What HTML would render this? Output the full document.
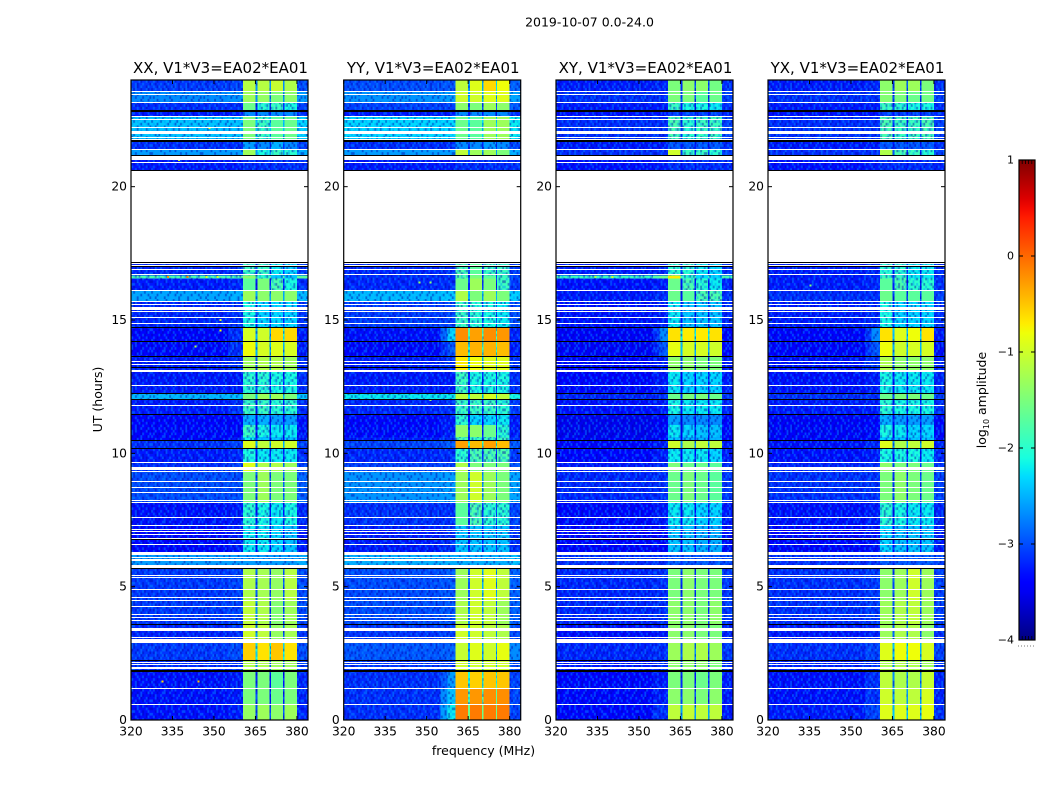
<!DOCTYPE html>
<html>
<head>
<meta charset="utf-8">
<title>2019-10-07 amplitude spectrogram</title>
<style>
html,body{margin:0;padding:0;background:#fff;}
svg{display:block;font-family:"DejaVu Sans","Liberation Sans",sans-serif;}
text{fill:#000;}
</style>
</head>
<body>
<svg id="chart" xmlns="http://www.w3.org/2000/svg" width="1050" height="800" viewBox="0 0 1050 800">
  <defs id="defs"></defs>
  <text x="589.5" y="26.5" font-size="12.5" text-anchor="middle">2019-10-07 0.0-24.0</text>
  <text x="483.5" y="755" font-size="12.5" text-anchor="middle">frequency (MHz)</text>
  <text x="102" y="399.5" font-size="12.5" text-anchor="middle" transform="rotate(-90 102 399.5)">UT (hours)</text>
  <text x="986" y="400" font-size="12.5" text-anchor="middle" transform="rotate(-90 986 400)">log<tspan font-size="8" dy="3">10</tspan><tspan dy="-3"> amplitude</tspan></text>
</svg>
<script>
const polarizations = ['XX', 'YY', 'XY', 'YX'];
const baselineLabel = ', V1*V3=EA02*EA01';
const freqTicks = [320, 335, 350, 365, 380];
const hourTicks = [0, 5, 10, 15, 20];
const colorTicks = [1, 0, -1, -2, -3, -4];
const freqRange = [320, 384];
const hourRange = [0, 24];
const colorRange = [-4, 1];

// Frequency segment edges (MHz): off-band, edge, sub-band 1, gap, sub-band 2, gap, sub-band 3, gap, sub-band 4, tail
const freqEdges = [320, 355, 360.5, 365, 365.7, 370, 370.6, 375, 375.5, 380, 384];

// Time band edges (UT hours), top to bottom
const hourEdges = [24.00,23.58,23.13,22.87,22.65,21.75,21.41,21.18,20.58,17.17,16.67,16.55,16.09,15.67,14.74,14.21,13.61,13.05,12.22,12.02,11.45,11.06,10.61,10.46,10.16,9.64,9.30,8.14,7.31,6.30,5.66,4.50,3.60,2.92,2.25,1.84,1.20,0.60,0];

// log10 amplitude per time band: off-band, edge, sub-band 1..4
const xxLevels = [
[-2.95,-2.9,-1.15,-1.15,-1.05,-1.2],[-2.7,-2.65,-1.3,-1.35,-1.5,-1.4],[-3,-3,-1.6,-2,-1.9,-2.1],[-3.1,-3.1,-2.7,-2.7,-2.7,-2.7],
[-2.4,-2.4,-1.5,-1.9,-1.7,-1.6],[-3,-3,-2.6,-2.7,-2.5,-2.7],[-2.6,-2.6,-1.3,-2.1,-1.9,-2],[-3.1,-3.1,-3,-3,-3,-3],
[-3.1,-3.1,-3,-3,-3,-3],[-3.05,-3,-1.9,-1.9,-2.2,-2.3],[-1.8,-1.8,-1.4,-2,-2.4,-2.4],[-3.1,-3.05,-1.7,-1.5,-1.8,-2.1],
[-2.55,-2.5,-1.3,-1.4,-1.4,-1.4],[-3.05,-3,-2.1,-2.3,-2.3,-2.3],[-3.2,-3,-0.95,-1,-0.6,-0.6],[-3.2,-3,-0.8,-0.95,-0.9,-0.95],
[-3.1,-3,-1.3,-1.2,-1.2,-1.3],[-3.1,-3.1,-2,-2,-2.1,-2.1],[-2.45,-2.4,-1.5,-1.3,-1.3,-1.5],[-3.1,-3,-1.9,-1.9,-2,-2],
[-3.25,-3.2,-2.5,-2.5,-2.6,-2.6],[-3.25,-3.2,-1.9,-2.1,-2.2,-2.2],[-3.2,-3.1,-2.2,-2.4,-2.4,-2.4],[-3,-2.9,-0.9,-1.1,-1,-1],
[-3.1,-3.05,-2.1,-2.2,-2.2,-2.2],[-3,-2.9,-0.9,-1.2,-1.2,-1.3],[-2.85,-2.85,-1.5,-1.3,-1.5,-1.5],[-3.15,-3.1,-2,-2.1,-2.2,-2.1],
[-3.2,-3.1,-2.2,-2.2,-2.3,-2.4],[-2.6,-2.6,-2.6,-2.6,-2.6,-2.6],[-2.95,-2.9,-1.2,-1.25,-1.35,-1.15],[-2.95,-2.9,-1.1,-1.2,-1.45,-1.3],
[-3.05,-3,-1,-1.1,-1.35,-1.25],[-2.95,-2.85,-0.55,-0.65,-0.5,-0.65],[-3,-3,-1.2,-1.2,-1.3,-1.3],[-3.15,-3.1,-1.5,-1.5,-1.7,-1.5],
[-3.15,-3.1,-1.5,-1.5,-1.6,-1.5],[-3.15,-3.1,-1.35,-1.3,-1.4,-1.3]
];
const yyLevels = [
[-2.85,-2.8,-1.1,-0.9,-0.6,-0.8],[-2.65,-2.6,-1,-1,-0.9,-0.9],[-2.9,-2.9,-1.4,-1.5,-1.3,-1.4],[-3.1,-3.1,-2.7,-2.7,-2.7,-2.7],
[-2.3,-2.3,-1.6,-1.7,-1.3,-1.3],[-3,-3,-2.7,-2.7,-2.6,-2.7],[-2.6,-2.6,-1.1,-1.3,-1.3,-1.5],[-3.1,-3.1,-3,-3,-3,-3],
[-3.1,-3.1,-3,-3,-3,-3],[-3.05,-3,-1.8,-1.7,-1.9,-1.9],[-3,-3,-1.8,-1.5,-1.7,-1.9],[-3.05,-3,-1.6,-1.3,-1.5,-1.9],
[-2.45,-2.4,-1.2,-1.5,-1.3,-1.5],[-2.95,-2.9,-1.9,-2,-2.1,-2.2],[-3.15,-2.3,-0.2,-0.3,-0.2,-0.25],[-3.2,-2.8,-0.45,-0.4,-0.4,-0.45],
[-3.1,-3,-0.7,-0.8,-0.9,-0.9],[-3.1,-3.1,-1.9,-2.1,-2.1,-2.1],[-2.2,-2.2,-1.1,-1.1,-0.95,-1.1],[-3.05,-3,-1.9,-1.9,-1.9,-2],
[-3.2,-3.1,-2,-2.3,-2.3,-2.2],[-3.2,-3.1,-1.4,-1.4,-1.6,-2],[-3.1,-3,-1.8,-1.9,-1.9,-1.9],[-2.9,-2.8,-0.3,-0.45,-0.3,-0.45],
[-3.05,-3,-2,-1.8,-1.8,-1.8],[-2.9,-2.9,-1.2,-1.5,-1.5,-1.5],[-2.65,-2.6,-1.3,-1,-1.3,-1.5],[-3,-3,-1.7,-1.8,-2,-2],
[-3.1,-3,-2.4,-2.4,-2.4,-2.4],[-2.5,-2.5,-2.5,-2.5,-2.5,-2.5],[-2.85,-2.8,-1.3,-1,-0.9,-1.1],[-2.85,-2.8,-1.2,-1,-1.1,-1.3],
[-2.95,-2.9,-1,-1,-1.1,-1.2],[-2.8,-2.75,-1.05,-0.9,-1,-0.85],[-2.95,-2.9,-1,-1,-1,-1],[-3,-2.6,-0.5,-0.55,-0.5,-0.5],
[-3,-2.4,-0.25,-0.25,-0.2,-0.2],[-3,-2.2,-0.1,-0.1,-0.1,-0.1]
];
const xyLevels = [
[-3.1,-3.05,-1.5,-1.4,-1.4,-1.55],[-3,-3,-1.5,-1.5,-1.7,-1.6],[-3.1,-3.1,-1.9,-2.1,-2.1,-2.2],[-3.15,-3.15,-2.9,-2.9,-2.9,-2.9],
[-3,-3,-1.8,-2,-1.9,-1.9],[-3.1,-3.1,-2.8,-2.8,-2.8,-2.8],[-3,-3,-1,-1.9,-1.9,-2],[-3.15,-3.1,-3,-3,-3,-3],
[-3.15,-3.1,-3,-3,-3,-3],[-3.1,-3.05,-2,-2,-2.2,-2.3],[-1.9,-1.6,-0.7,-2,-2.3,-2.3],[-3.15,-3.1,-1.6,-1.8,-2,-2.2],
[-3.1,-3,-1.6,-1.7,-1.8,-1.8],[-3.15,-3.1,-2.2,-2.4,-2.4,-2.4],[-3.3,-2.7,-0.65,-0.7,-0.7,-0.65],[-3.3,-2.8,-0.85,-0.95,-0.95,-1],
[-3.2,-3.1,-1.4,-1.4,-1.5,-1.5],[-3.2,-3.1,-2.2,-2.3,-2.3,-2.3],[-3.05,-3,-1.6,-1.5,-1.5,-1.6],[-3.15,-3.1,-2.1,-2.2,-2.2,-2.2],
[-3.35,-3.3,-2.6,-2.7,-2.7,-2.7],[-3.35,-3.3,-2.2,-2.3,-2.4,-2.4],[-3.3,-3.2,-2.4,-2.5,-2.5,-2.5],[-3.2,-3.1,-1,-1.2,-1.1,-1.1],
[-3.2,-3.1,-2.2,-2.2,-2.2,-2.3],[-3.1,-3,-1.5,-1.6,-1.6,-1.7],[-3.05,-3,-1.6,-1.5,-1.6,-1.7],[-3.2,-3.1,-2.2,-2.2,-2.3,-2.3],
[-3.25,-3.2,-2.4,-2.4,-2.5,-2.5],[-3,-3,-2.8,-2.8,-2.8,-2.8],[-3.05,-3,-1.5,-1.4,-1.5,-1.5],[-3.05,-3,-1.4,-1.4,-1.5,-1.4],
[-3.15,-3.1,-1.4,-1.4,-1.5,-1.5],[-3.05,-3,-1.3,-1.2,-1.2,-1.3],[-3.1,-3,-1.4,-1.4,-1.4,-1.5],[-3.2,-3.1,-1.5,-1.5,-1.6,-1.5],
[-3.2,-3.1,-1.4,-1.4,-1.5,-1.4],[-3.2,-3,-1.1,-1.05,-1.1,-1.1]
];
const yxLevels = [
[-3.1,-3.05,-1.4,-1.3,-1.3,-1.5],[-3,-3,-1.45,-1.5,-1.6,-1.55],[-3.1,-3.1,-1.9,-2,-2.1,-2.1],[-3.15,-3.15,-2.9,-2.9,-2.9,-2.9],
[-3,-3,-1.8,-1.9,-1.9,-1.8],[-3.1,-3.1,-2.8,-2.8,-2.8,-2.8],[-3,-3,-1.2,-1.8,-1.9,-2],[-3.15,-3.1,-3,-3,-3,-3],
[-3.15,-3.1,-3,-3,-3,-3],[-3.1,-3.05,-2,-2,-2.2,-2.2],[-3.1,-3.05,-1.9,-1.9,-2.2,-2.2],[-3.1,-3.05,-1.7,-1.8,-2,-2],
[-3,-3,-1.6,-1.7,-1.7,-1.7],[-3.1,-3.05,-2.1,-2.3,-2.3,-2.3],[-3.2,-2.7,-0.65,-0.9,-0.8,-0.65],[-3.25,-2.8,-0.8,-1,-0.95,-0.95],
[-3.15,-3,-1.2,-1.4,-1.4,-1.4],[-3.15,-3.1,-2.1,-2.2,-2.2,-2.2],[-3,-3,-1.6,-1.5,-1.5,-1.6],[-3.1,-3.1,-2,-2.1,-2.1,-2.1],
[-3.3,-3.2,-2.5,-2.6,-2.6,-2.6],[-3.3,-3.2,-2.1,-2.2,-2.3,-2.3],[-3.25,-3.2,-2.3,-2.4,-2.4,-2.4],[-3.15,-3.05,-0.9,-1.2,-1.1,-1],
[-3.15,-3.1,-2.1,-2.1,-2.1,-2.2],[-3.05,-3,-1.4,-1.5,-1.5,-1.6],[-3,-3,-1.5,-1.4,-1.5,-1.6],[-3.15,-3.1,-2,-2.1,-2.2,-2.2],
[-3.2,-3.15,-2.3,-2.4,-2.4,-2.4],[-3,-3,-2.8,-2.8,-2.8,-2.8],[-3,-2.95,-1.4,-1.3,-1,-1.3],[-3,-2.95,-1.3,-1.2,-1.1,-1.3],
[-3.1,-3.05,-1.3,-1.2,-1.2,-1.4],[-3,-2.9,-0.9,-0.8,-0.8,-0.95],[-3.05,-3,-1.2,-1.2,-1.2,-1.3],[-3.15,-3,-1.1,-1.2,-1.2,-1.05],
[-3.15,-3,-1,-1.1,-1.1,-0.95],[-3.1,-2.9,-0.9,-0.9,-0.9,-0.85]
];

// Flagged rows shown white: [upper hour, lower hour]
const whiteRows = [[23.60,23.58],[23.48,23.45],[23.17,23.14],[22.66,22.64],[22.54,22.52],[22.23,22.20],[22.09,21.97],[21.87,21.84],[21.80,21.77],[21.43,21.41],[21.15,21.00],[20.94,20.90],[20.58,17.17],[17.14,17.10],[17.06,17.02],[16.90,16.87],[16.71,16.68],[16.14,16.10],[15.71,15.68],[15.59,15.56],[15.49,15.37],[15.34,15.32],[15.10,15.07],[14.90,14.85],[13.45,13.42],[13.36,13.33],[13.11,13.04],[12.58,12.56],[11.81,11.78],[9.66,9.63],[9.47,9.37],[9.35,9.32],[8.96,8.93],[8.74,8.71],[8.55,8.52],[8.25,8.22],[8.17,8.14],[7.61,7.59],[7.33,7.30],[7.18,7.15],[7.10,7.07],[6.98,6.96],[6.84,6.77],[6.61,6.58],[6.30,6.20],[6.13,6.10],[6.04,5.98],[5.83,5.72],[5.44,5.41],[5.36,5.34],[4.91,4.89],[4.63,4.60],[4.49,4.47],[4.27,4.24],[3.99,3.96],[3.87,3.84],[3.74,3.72],[3.46,3.44],[3.40,3.31],[3.11,3.09],[3.04,2.90],[2.17,2.15],[2.09,2.06],[2.00,1.98],[1.94,1.89],[1.19,1.17],[0.60,0.57]];

// Rows shown black: [upper hour, lower hour]
const blackRows = [[22.89,22.81],[21.75,21.69],[21.20,21.16],[20.64,20.60],[17.17,17.14],[17.02,16.99],[14.75,14.70],[14.21,14.18],[13.65,13.60],[13.22,13.20],[12.25,12.21],[12.04,12.00],[11.47,11.44],[10.50,10.46],[10.20,10.16],[6.77,6.75],[5.71,5.66],[3.60,3.57],[2.26,2.23],[1.89,1.83]];

// Isolated RFI samples: [panel index, MHz, hour, log10 amplitude]
const rfiSpots = [[0,340,16.62,-0.1],[0,333,16.62,-0.2],[0,347,16.62,-0.9],[0,351,16.62,-1],[0,352,15.0,-1],[0,352,14.6,-0.8],[0,343,14.0,-1.2],[0,331,1.45,-0.6],[0,344,1.45,-0.5],[1,351,16.4,-1.4],[1,347,16.4,-1.3],[1,351,12.0,-1.4],[2,334,16.62,-1.2],[2,340,16.62,-1.0],[3,335,16.3,-1.5],[0,348,22.2,-0.9],[0,337,21,-1]];

// Noise texture glyphs: 0 none, 1 lighter sample, 2 darker sample
const speckleRows = [
"0102100120012102100120100210","2010012012001002012100200120","0120200100210100012000210001","1002001120100200120020100210",
"0210010000201001200210120002","0012001210020010010001200120","1200210001201002000120021001","0020100120000100201202000120",
"0100120010210200100010210200","2001000210010001200210000102","0021010002001200011001020010","1000201200100021002000120201",
"0120002001021000120102000210","2000120100200120002010012000","0102000012001200210001200120","1020010201000102000120010002"];

const NS = 'http://www.w3.org/2000/svg';
const svg = document.getElementById('chart');
const defs = document.getElementById('defs');
const panelLeft = [131, 343.7, 556, 768];
const panelWidth = 177, panelTop = 80, panelBottom = 720;
const cbLeft = 1019, cbWidth = 16, cbTop = 160, cbBottom = 640;
const levelSets = [xxLevels, yyLevels, xyLevels, yxLevels];

function make(tag, attrs, parent) {
  const el = document.createElementNS(NS, tag);
  for (const k in attrs) el.setAttribute(k, attrs[k]);
  (parent || svg).appendChild(el);
  return el;
}
function xScale(p, f) { return panelLeft[p] + (f - freqRange[0]) / (freqRange[1] - freqRange[0]) * panelWidth; }
function yScale(h) { return panelBottom - (h - hourRange[0]) / (hourRange[1] - hourRange[0]) * (panelBottom - panelTop); }
function cScale(v) { return cbBottom - (v - colorRange[0]) / (colorRange[1] - colorRange[0]) * (cbBottom - cbTop); }

function interp(stops, t) {
  for (let i = 1; i < stops.length; i++) {
    if (t <= stops[i][0]) {
      const a = stops[i - 1], b = stops[i];
      return a[1] + (b[1] - a[1]) * (t - a[0]) / (b[0] - a[0]);
    }
  }
  return stops[stops.length - 1][1];
}
const jetR = [[0,0],[.35,0],[.66,1],[.89,1],[1,.5]];
const jetG = [[0,0],[.125,0],[.375,1],[.64,1],[.91,0],[1,0]];
const jetB = [[0,.5],[.11,1],[.34,1],[.65,0],[1,0]];
function jet(v) {
  const t = Math.max(0, Math.min(1, (v - colorRange[0]) / (colorRange[1] - colorRange[0])));
  return 'rgb(' + Math.round(255 * interp(jetR, t)) + ',' + Math.round(255 * interp(jetG, t)) + ',' + Math.round(255 * interp(jetB, t)) + ')';
}
// quiet background reads slightly lower once speckled
function shade(v) { return jet(v < -2.7 ? v - 0.17 : v); }

// speckle texture pattern
const cw = 1.8, ch = 2.67;
const pat = make('pattern', { id: 'speckle', patternUnits: 'userSpaceOnUse', width: speckleRows[0].length * cw, height: speckleRows.length * ch }, defs);
speckleRows.forEach((row, j) => {
  row.split('').forEach((c, i) => {
    if (c === '0') return;
    make('rect', { x: i * cw, y: j * ch, width: cw, height: ch, fill: c === '1' ? 'rgba(0,150,255,0.45)' : 'rgba(0,0,170,0.45)' }, pat);
  });
});

// Map freq segment index to level: 0 off,1 edge,2 s1,3 gap,4 s2,5 gap,6 s3,7 gap,8 s4,9 tail
function segmentLevel(row, seg) {
  if (seg === 0) return row[0];
  if (seg === 1) return row[1];
  if (seg === 2) return row[2];
  if (seg === 4) return row[3];
  if (seg === 6) return row[4];
  if (seg === 8) return row[5];
  if (seg === 9) return row[0] + 0.1;
  const left = segmentLevel(row, seg - 1), right = segmentLevel(row, seg + 1);
  return Math.max(row[0], Math.min(left, right) - 1.5);
}

function drawPanel(p) {
  const g = make('g', { 'shape-rendering': 'crispEdges' });
  
  
  const levels = levelSets[p];
  for (let b = 0; b < hourEdges.length - 1; b++) {
    const yT = yScale(hourEdges[b]), yB = yScale(hourEdges[b + 1]);
    for (let s = 0; s < freqEdges.length - 1; s++) {
      const x0 = xScale(p, freqEdges[s]), x1 = xScale(p, freqEdges[s + 1]);
      const v = segmentLevel(levels[b], s);
      const cell = make('rect', { x: x0, y: yT, width: x1 - x0, height: yB - yT, fill: shade(v) }, g);
      
      
      if (s === 1 && v - levels[b][0] > 0.25) {
        const fade = make('rect', { x: x0, y: yT, width: (x1 - x0) * 0.45, height: yB - yT, fill: shade((v + levels[b][0]) / 2) }, g);
        
        
      }
      if (v < -1.7) {
        const tex = make('rect', { x: x0, y: yT, width: x1 - x0, height: yB - yT, fill: 'url(#speckle)' }, g);
        
        
      }
    }
  }
  rfiSpots.filter(r => r[0] === p).forEach(r => {
    const spot = make('rect', { x: xScale(p, r[1]), y: yScale(r[2]) - 1, width: 2, height: 2, fill: jet(r[3]) }, g);
    
    
  });
  whiteRows.forEach(r => {
    const band = make('rect', { x: panelLeft[p], y: Math.round(yScale(r[0])), width: panelWidth, height: Math.max(Math.round(yScale(r[1]) - yScale(r[0])), 1), fill: '#fff' }, g);
    
    
  });
  blackRows.forEach(r => {
    const band = make('rect', { x: panelLeft[p], y: Math.round(yScale(r[0])), width: panelWidth, height: Math.max(Math.round(yScale(r[1]) - yScale(r[0])), 1), fill: '#000' }, g);
    
    
  });

  const frame = make('rect', { x: panelLeft[p], y: panelTop, width: panelWidth, height: panelBottom - panelTop, fill: 'none', stroke: '#000', 'stroke-width': 1.2 });
  
  

  const title = make('text', { x: panelLeft[p] + panelWidth / 2 + 1, y: 73, 'font-size': 15, 'text-anchor': 'middle' });
  title.textContent = polarizations[p] + baselineLabel;
  
  

  freqTicks.forEach(f => {
    const x = xScale(p, f);
    const t1 = make('line', { x1: x, x2: x, y1: panelBottom, y2: panelBottom - 4, stroke: '#000', 'stroke-width': 1 });
    
    
    const t2 = make('line', { x1: x, x2: x, y1: panelTop, y2: panelTop + 4, stroke: '#000', 'stroke-width': 1 });
    
    
    const lab = make('text', { x: x, y: 735.5, 'font-size': 12.3, 'text-anchor': 'middle' });
    lab.textContent = f;
    
    
  });
  hourTicks.forEach(h => {
    const y = yScale(h);
    const t1 = make('line', { x1: panelLeft[p], x2: panelLeft[p] + 4, y1: y, y2: y, stroke: '#000', 'stroke-width': 1 });
    
    
    const t2 = make('line', { x1: panelLeft[p] + panelWidth, x2: panelLeft[p] + panelWidth - 4, y1: y, y2: y, stroke: '#000', 'stroke-width': 1 });
    
    
    const lab = make('text', { x: panelLeft[p] - 4, y: y + 4, 'font-size': 12.3, 'text-anchor': 'end' });
    lab.textContent = h;
    
    
  });
}
polarizations.forEach((_, p) => drawPanel(p));

// colorbar
const grad = make('linearGradient', { id: 'jetGrad', x1: 0, y1: 1, x2: 0, y2: 0 }, defs);
for (let i = 0; i <= 50; i++) {
  const v = colorRange[0] + (colorRange[1] - colorRange[0]) * i / 50;
  make('stop', { offset: (i * 2) + '%', 'stop-color': jet(v) }, grad);
}
const bar = make('rect', { x: cbLeft, y: cbTop, width: cbWidth, height: cbBottom - cbTop, fill: 'url(#jetGrad)', stroke: '#000', 'stroke-width': 1.2 });


colorTicks.forEach(v => {
  const y = cScale(v);
  const t1 = make('line', { x1: cbLeft, x2: cbLeft + 4, y1: y, y2: y, stroke: '#000', 'stroke-width': 1 });
  
  
  const t2 = make('line', { x1: cbLeft + cbWidth, x2: cbLeft + cbWidth - 4, y1: y, y2: y, stroke: '#000', 'stroke-width': 1 });
  
  
  const lab = make('text', { x: cbLeft - 5, y: y + 3.5, 'font-size': 11, 'text-anchor': 'end' });
  lab.textContent = String(v).replace('-', '\u2212');
  
  
});
[cbTop, cbBottom].forEach(y => {
  const dir = y === cbTop ? 1 : -1;
  for (let i = 1; i <= 4; i++) {
    const x = cbLeft + i * cbWidth / 5;
    const m = make('line', { x1: x, x2: x, y1: y, y2: y + dir * 4, stroke: '#000', 'stroke-width': 0.8 });
    
    
  }
});
const dots = make('line', { x1: cbLeft - 1, x2: cbLeft + cbWidth, y1: 646, y2: 646, stroke: '#777', 'stroke-width': 1, 'stroke-dasharray': '1 2' });


</script>
</body>
</html>
